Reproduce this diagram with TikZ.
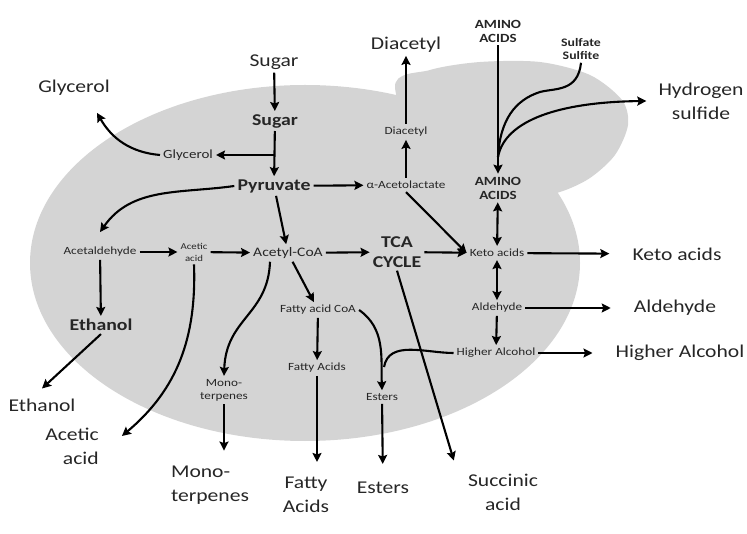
\documentclass[tikz,border=0pt]{standalone}
\usepackage{fontspec}
\setmainfont{Carlito}[FakeStretch=1.2]
\usepackage{tikz}
\usetikzlibrary{arrows.meta,calc}
\definecolor{cellgray}{RGB}{212,212,212}

\begin{document}
\begin{tikzpicture}[x=1pt,y=1pt]
    \tikzstyle{every node}+=[inner sep=3pt,text=black!85]
    \tikzstyle{line}=[draw=black,line width=2.1pt]
    \tikzstyle{arr}=[line,-{Stealth[length=9pt,width=9pt,inset=1.5pt]}]
    \tikzstyle{darr}=[line,{Stealth[length=9pt,width=9pt,inset=1.5pt]}-{Stealth[length=9pt,width=9pt,inset=1.5pt]}]
    \tikzstyle{big}=[font=\fontsize{18}{24}\selectfont,align=center]
    \tikzstyle{bold}=[font=\fontsize{16.5}{20}\selectfont\bfseries,align=center]
    \tikzstyle{mid}=[font=\fontsize{13}{15}\selectfont]
    \tikzstyle{small}=[font=\fontsize{11}{13}\selectfont,align=center]
    \tikzstyle{tiny}=[font=\fontsize{9}{12}\selectfont,align=center]
    \tikzstyle{caps}=[font=\fontsize{12.5}{14}\selectfont\bfseries,align=center]
    \useasboundingbox (0,0) rectangle (747,-534);
    \fill [cellgray] (305,-263) ellipse (275 and 178);
    \fill [cellgray] plot [smooth cycle] coordinates {(395,-88) (430,-70) (480,-62) (540,-62) (590,-75) (622,-100) (628,-125) (615,-155) (590,-178) (560,-192) (520,-200) (440,-190)};
    \node [big] (sugarA) at (274,-62) {Sugar};
    \node [bold] (sugarB) at (275,-121) {Sugar};
    \node [big] (glyA) at (74,-88) {Glycerol};
    \node [small,font=\fontsize{12.5}{14}\selectfont] (glyB) at (188,-155) {Glycerol};
    \node [bold] (pyr) at (274,-186) {Pyruvate};
    \node [small] (acl) at (406,-185) {α-Acetolactate};
    \node [small] (diacB) at (406,-132) {Diacetyl};
    \node [big] (diacA) at (406,-45) {Diacetyl};
    \node [caps] (aminoA) at (498,-31) {AMINO\\ACIDS};
    \node [caps,font=\fontsize{11.5}{13}\selectfont\bfseries] (sulf) at (581,-49) {Sulfate\\Sulfite};
    \node [big] (h2s) at (701,-101) {Hydrogen\\sulfide};
    \node [caps] (aminoB) at (498,-188) {AMINO\\ACIDS};
    \node [small] (acald) at (100,-252) {Acetaldehyde};
    \node [tiny] (acetic) at (194,-252) {Acetic\\acid};
    \node [mid] (acoa) at (288,-253) {Acetyl-CoA};
    \node [bold] (tca) at (397,-252) {TCA\\CYCLE};
    \node [small] (keto) at (497,-253) {Keto acids};
    \node [big] (ketoOut) at (677,-254) {Keto acids};
    \node [small] (ald) at (497,-308) {Aldehyde};
    \node [big] (aldOut) at (675,-308) {Aldehyde};
    \node [small] (hal) at (496,-353) {Higher Alcohol};
    \node [big] (halOut) at (680,-353) {Higher Alcohol};
    \node [small] (faCoA) at (318,-310) {Fatty acid CoA};
    \node [small] (fatty) at (317,-368) {Fatty Acids};
    \node [big] (fattyOut) at (306,-495) {Fatty\\Acids};
    \node [small] (mono) at (224,-390) {Mono-\\terpenes};
    \node [big,align=left] (monoOut) at (210,-485) {Mono-\\terpenes};
    \node [small] (esters) at (382,-397) {Esters};
    \node [big] (estersOut) at (383,-488) {Esters};
    \node [big] (succ) at (503,-492) {Succinic\\acid};
    \node [bold] (ethB) at (101,-325) {Ethanol};
    \node [big] (ethOut) at (42,-405) {Ethanol};
    \node [big,align=right] (aceticOut) at (72,-446) {Acetic\\acid};
    \coordinate (split) at (275,-155);
    \coordinate (merge) at (498,-157);
    \coordinate (ejoin) at (384,-367);
    \draw [arr] (sugarA) -- (sugarB);
    \draw [arr] (sugarB) -- (pyr);
    \draw [arr] (split) -- (glyB);
    \draw [arr] (glyB.west) to [out=175,in=-60] ([xshift=23pt,yshift=-14pt]glyA.south);
    \draw [arr] (pyr) -- (acl);
    \draw [arr] (pyr.west) to [out=188,in=55] ([yshift=12pt]acald.north);
    \draw [arr] (acald) -- (acetic);
    \draw [arr] (acetic) -- (acoa);
    \draw [arr] (pyr) -- (acoa);
    \draw [arr] (acoa) -- (tca);
    \draw [arr] (tca) -- (keto);
    \draw [arr] (acl.south) -- (keto.west);
    \draw [arr] (acl) -- (diacB);
    \draw [arr] (diacB) -- (diacA);
    \draw [arr] (aminoA) -- (aminoB);
    \draw [line] (sulf.south) .. controls (578,-92) and (555,-88) .. (540,-92) .. controls (515,-100) and (500,-120) .. (merge);
    \draw [arr] (merge) .. controls (505,-120) and (560,-102) .. ([xshift=-9pt]h2s.west);
    \draw [darr] (aminoB) -- (keto);
    \draw [arr,shorten >=20pt] (keto) -- (ketoOut);
    \draw [darr] (keto) -- (ald);
    \draw [arr,shorten >=20pt] (ald) -- (aldOut);
    \draw [arr] (ald) -- (hal);
    \draw [arr,shorten >=20pt] (hal) -- (halOut);
    \draw [line] (hal.west) to [out=180,in=80] (ejoin);
    \draw [arr] (faCoA.east) to [out=-35,in=92] (esters.north);
    \draw [arr,shorten >=15pt] (esters) -- (estersOut);
    \draw [arr] (tca.south) -- ([shift={(-11pt,10pt)}]succ.north west);
    \draw [arr] (acoa) -- (faCoA);
    \draw [arr] (faCoA) -- (fatty);
    \draw [arr,shorten >=12pt] (fatty) -- (fatty |- fattyOut.north);
    \draw [arr] ([xshift=-18pt]acoa.south) .. controls (268,-315) and (226,-318) .. (mono.north);
    \draw [arr,shorten >=12pt] (mono) -- (mono |- monoOut.north);
    \draw [arr] (acetic.south) to [out=-88,in=40] ([xshift=20pt,yshift=10pt]aceticOut.east);
    \draw [arr] (acald) -- (ethB);
    \draw [arr] (ethB.south) -- ([yshift=7pt]ethOut.north);
\end{tikzpicture}
\end{document}
